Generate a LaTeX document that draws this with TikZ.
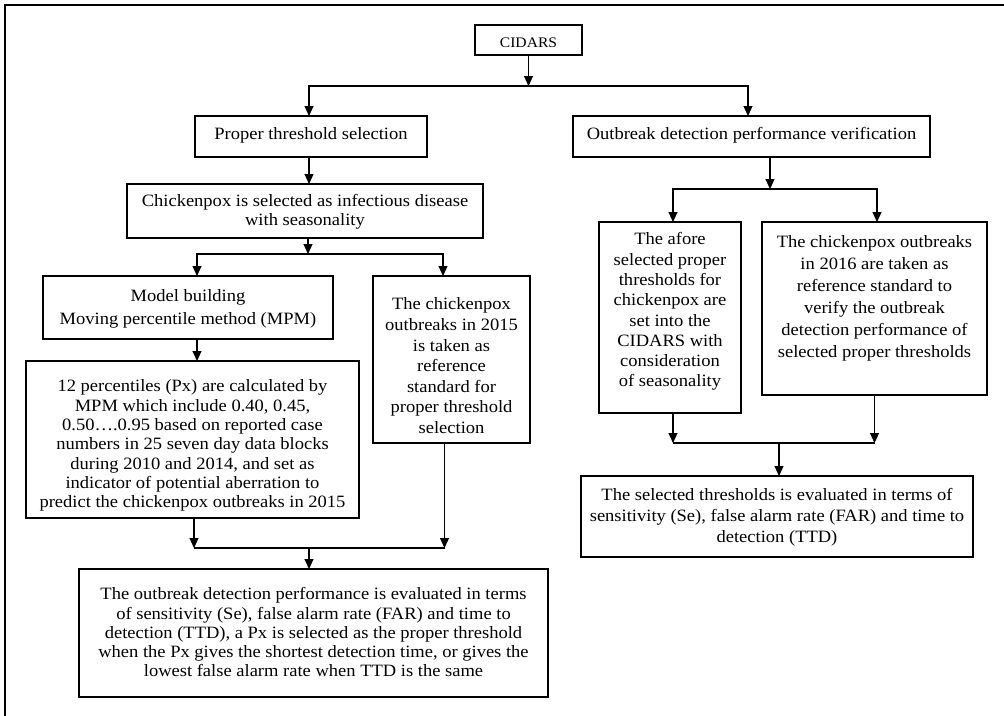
\documentclass[tikz,border=0pt]{standalone}
\usepackage{fontspec}
\setmainfont{Liberation Serif}[FakeStretch=1.07]
\usetikzlibrary{arrows.meta}
% #1 width, #2 height, #3 top space, #4 font size, #5 baselineskip, #6 text
\newcommand{\bxt}[6]{\begin{minipage}[c][#2pt][t]{#1pt}\centering\fontsize{#4pt}{#5pt}\selectfont\vspace*{#3pt}\strut #6\end{minipage}}
\begin{document}
\begin{tikzpicture}[x=1pt,y=-1pt]
\tikzset{
  boxn/.style={draw, line width=1.5pt, inner sep=0pt, outer sep=0pt},
  ln/.style={line width=1.1pt},
  arr/.style={line width=1.1pt, -{Triangle[length=10pt,width=9pt]}},
}
\useasboundingbox (0,0) rectangle (1004,715);
\draw[line width=2pt] (5,730) -- (5,5) -- (1020,5);

\node[boxn] (cidars) at (528.5,40)   {\bxt{107}{30}{11.6}{14.6}{16}{CIDARS}};
\node[boxn] (pts)    at (311,136.5)  {\bxt{232}{41}{9.8}{17.3}{20}{Proper threshold selection}};
\node[boxn] (odv)    at (751.5,136.5){\bxt{357}{41}{9.8}{17.3}{20}{Outbreak detection performance verification}};
\node[boxn] (csel)   at (305,211)    {\bxt{356}{54}{10}{17.3}{18.3}{Chickenpox is selected as infectious disease\\ with seasonality}};
\node[boxn] (model)  at (188,307.5)  {\bxt{290}{63}{9.7}{17.3}{23}{Model building\\ Moving percentile method (MPM)}};
\node[boxn] (o2015)  at (451.5,359.5){\bxt{157}{167}{19.4}{17.3}{20.6}{The chickenpox\\ outbreaks in 2015\\ is taken as\\ reference\\ standard for\\ proper threshold\\ selection}};
\node[boxn] (pct)    at (192.5,439.5){\bxt{333}{157}{17.3}{17.3}{19.3}{12 percentiles (Px) are calculated by\\ MPM which include 0.40, 0.45,\\ 0.50….0.95 based on reported case\\ numbers in 25 seven day data blocks\\ during 2010 and 2014, and set as\\ indicator of potential aberration to\\ predict the chickenpox outbreaks in 2015}};
\node[boxn] (afore)  at (670,317.5)  {\bxt{142}{191}{8.6}{17.3}{20.3}{The afore\\ selected proper\\ thresholds for\\ chickenpox are\\ set into the\\ CIDARS with\\ consideration\\ of seasonality}};
\node[boxn] (o2016)  at (874.5,308.5){\bxt{225}{173}{10.4}{17.3}{22}{The chickenpox outbreaks\\ in 2016 are taken as\\ reference standard to\\ verify the outbreak\\ detection performance of\\ selected proper thresholds}};
\node[boxn] (sel)    at (777,516.5)  {\bxt{392}{81}{10.1}{17.3}{21}{The selected thresholds is evaluated in terms of\\ sensitivity (Se), false alarm rate (FAR) and time to\\ detection (TTD)}};
\node[boxn] (final)  at (313.5,633)  {\bxt{469}{128}{17.4}{17.3}{19.2}{The outbreak detection performance is evaluated in terms\\ of sensitivity (Se), false alarm rate (FAR) and time to\\ detection (TTD), a Px is selected as the proper threshold\\ when the Px gives the shortest detection time, or gives the\\ lowest false alarm rate when TTD is the same}};

% top split
\coordinate (j1) at (528.5,86);
\draw[arr] (cidars.south) -- (j1);
\draw[arr] (j1) -| ([xshift=-2pt]pts.north);
\draw[arr] (j1) -| ([xshift=-3.5pt]odv.north);
\draw[arr] ([xshift=-2pt]pts.south) -- ([xshift=-2pt]pts.south |- csel.north);

% right split
\coordinate (j2) at (770,189);
\draw[arr] (odv.south -| j2) -- (j2);
\draw[arr] (j2) -| ([xshift=3pt]afore.north);
\draw[arr] (j2) -| ([xshift=2.5pt]o2016.north);

% left split
\coordinate (j3) at (308,254);
\draw[arr] (csel.south -| j3) -- (j3);
\draw[arr] (j3) -| ([xshift=9pt]model.north);
\draw[arr] (j3) -| ([xshift=-8.5pt]o2015.north);
\draw[arr] ([xshift=9pt]model.south) -- ([xshift=9pt]model.south |- pct.north);

% right merge
\coordinate (m1) at (779,443);
\draw[arr] ([xshift=3pt]afore.south) -- ([xshift=3pt]afore.south |- m1);
\draw[arr] (o2016.south) -- (o2016.south |- m1);
\draw[ln] ([xshift=3pt]afore.south |- m1) -- (o2016.south |- m1);
\draw[arr] (m1) -- (m1 |- sel.north);

% left merge
\coordinate (m2) at (309,548);
\draw[arr] ([xshift=1.5pt]pct.south) -- ([xshift=1.5pt]pct.south |- m2);
\draw[arr] ([xshift=-7pt]o2015.south) -- ([xshift=-7pt]o2015.south |- m2);
\draw[ln] ([xshift=1.5pt]pct.south |- m2) -- ([xshift=-7pt]o2015.south |- m2);
\draw[arr] (m2) -- (m2 |- final.north);
\end{tikzpicture}
\end{document}
